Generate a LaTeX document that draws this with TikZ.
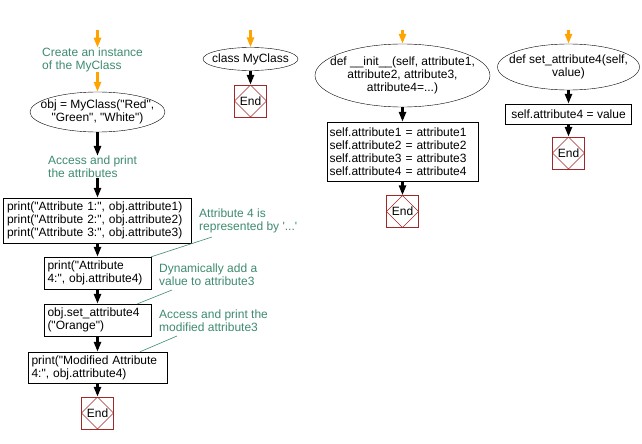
\documentclass[tikz,border=0pt]{standalone}
\usepackage{fontspec}
\setmainfont{Liberation Sans}[Ligatures=TeXOff]
\usetikzlibrary{shapes.geometric, arrows.meta}

\definecolor{noteteal}{RGB}{62,139,110}
\definecolor{startorange}{RGB}{255,163,0}
\definecolor{endred}{RGB}{160,40,40}

\tikzset{
  base/.style={font=\fontsize{12}{13}\selectfont, inner sep=0pt},
  code/.style={base, draw, rectangle, inner xsep=3.5pt, align=left},
  call/.style={base, draw, ellipse, inner xsep=-30pt, align=center},
  note/.style={base, text=noteteal, align=left, anchor=west},
  endbox/.style={base, draw=endred, minimum size=32pt,
    path picture={\draw[endred] (path picture bounding box.north) -- (path picture bounding box.east)
      -- (path picture bounding box.south) -- (path picture bounding box.west) -- cycle;}},
  flow/.style={-{Triangle[width=7pt,length=10pt]}, line width=2.8pt},
  startflow/.style={flow, draw=startorange},
  link/.style={draw=noteteal, line width=0.6pt},
}

\begin{document}
\begin{tikzpicture}[x=1pt, y=-1pt]
  \useasboundingbox (0,0) rectangle (642,444);

  % main program
  \coordinate (s1) at (97.5,30);
  \node[note] (create) at (42,60) {Create an instance\\of the MyClass};
  \node[call, minimum width=135pt, minimum height=40pt] (obj) at (97.5,112) {obj = MyClass("Red",\\"Green", "White")};
  \node[note] (access) at (48,167) {Access and print\\the attributes};
  \node[code, text width=181pt, minimum height=45pt] (prt) at (97.5,220.5) {print("Attribute 1:", obj.attribute1)\\print("Attribute 2:", obj.attribute2)\\print("Attribute 3:", obj.attribute3)};
  \node[code, text width=100pt, minimum height=32pt] (prt4) at (97.5,273) {print("Attribute\\4:", obj.attribute4)};
  \node[code, text width=100pt, minimum height=32pt] (set4) at (97.5,320) {obj.set\_attribute4\\("Orange")};
  \node[code, text width=132pt, minimum height=31pt] (mod4) at (97.5,367.5) {print("Modified Attribute\\4:", obj.attribute4)};
  \node[endbox] (end1) at (97.5,413) {End};

  \draw[startflow] (s1) -- (s1 |- create.north);
  \draw[startflow] (obj.north |- create.south) -- (obj);
  \draw[flow] (obj) -- (obj.south |- access.north);
  \draw[flow] (prt.north |- access.south) -- (prt);
  \draw[flow] (prt) -- (prt4);
  \draw[flow] (prt4) -- (set4);
  \draw[flow] (set4) -- (mod4);
  \draw[flow] (mod4) -- (end1);

  % comments
  \node[note] (n1) at (199,221) {Attribute 4 is\\represented by '...'};
  \node[note] (n2) at (159,274.5) {Dynamically add a\\value to attribute3};
  \node[note] (n3) at (159,320.5) {Access and print the\\modified attribute3};
  \coordinate (n1tail) at (212,237);
  \coordinate (n2tail) at (172,290);
  \coordinate (n3tail) at (177,336);
  \draw[link] (n1tail) -- (prt4.north east);
  \draw[link] (n2tail) -- ([xshift=40pt]set4.north);
  \draw[link] (n3tail) -- ([xshift=42.5pt]mod4.north);

  % class MyClass
  \coordinate (s2) at (250.5,30);
  \node[call, minimum width=95pt, minimum height=23pt] (cls) at (250.5,59) {class MyClass};
  \node[endbox] (end2) at (250.5,101) {End};
  \draw[startflow] (s2) -- (cls);
  \draw[flow] (cls) -- (end2);

  % __init__
  \coordinate (s3) at (402.5,30);
  \node[call, minimum width=175pt, minimum height=63pt] (init) at (402.5,75.5) {def \_\_init\_\_(self, attribute1,\\attribute2, attribute3,\\attribute4=...)};
  \node[code, text width=146pt, minimum height=59pt, inner xsep=2.5pt] (assign) at (402.5,151.5) {self.attribute1 = attribute1\\self.attribute2 = attribute2\\self.attribute3 = attribute3\\self.attribute4 = attribute4};
  \node[endbox] (end3) at (402.5,211.5) {End};
  \draw[startflow] (s3) -- (init);
  \draw[flow] (init) -- (assign);
  \draw[flow] (assign) -- (end3);

  % set_attribute4
  \coordinate (s4) at (568.5,30);
  \node[call, minimum width=142pt, minimum height=46pt] (setdef) at (568.5,67) {def set\_attribute4(self,\\value)};
  \node[code, align=center, minimum width=126pt, minimum height=20pt] (assign4) at (568.5,114) {self.attribute4 = value};
  \node[endbox] (end4) at (568.5,153) {End};
  \draw[startflow] (s4) -- (setdef);
  \draw[flow] (setdef) -- (assign4);
  \draw[flow] (assign4) -- (end4);
\end{tikzpicture}
\end{document}
